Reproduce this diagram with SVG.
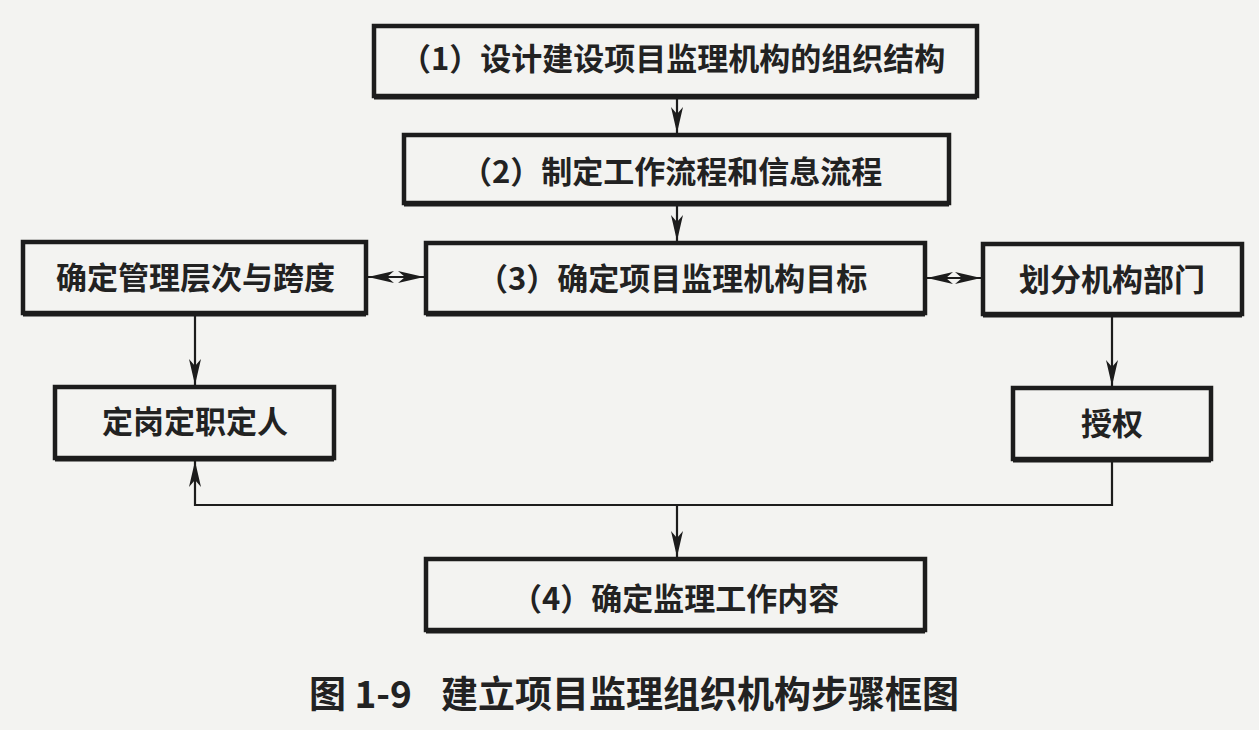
<svg xmlns="http://www.w3.org/2000/svg" width="1259" height="730" viewBox="0 0 1259 730">
<style>
.box{fill:none;stroke:#1c1c1c;stroke-width:4.5}
.bot{stroke:#1c1c1c;stroke-width:3}
.t{font-family:"Noto Sans CJK SC","Noto Sans",sans-serif;font-size:31px;font-weight:bold;fill:#222}
.cap{font-family:"Noto Sans CJK SC","Noto Sans",sans-serif;font-size:37px;font-weight:bold;fill:#222}
.ln{fill:none;stroke:#1c1c1c;stroke-width:2.2}
</style>
<defs>
<marker id="ah" viewBox="0 0 26 12" refX="26" refY="6" markerWidth="26" markerHeight="12" markerUnits="userSpaceOnUse" orient="auto-start-reverse">
<path d="M0,0 L26,6 L0,12 L7,6 Z" fill="#1c1c1c"/>
</marker>
</defs>
<rect x="0" y="0" width="1259" height="730" fill="#f3f3f1"/>
<g id="n1"><rect class="box" x="374" y="26" width="603" height="70"/><line class="bot" x1="374" y1="98" x2="977" y2="98"/><text class="t" x="400" y="70">（1）设计建设项目监理机构的组织结构</text></g>
<g id="n2"><rect class="box" x="404" y="135" width="545" height="68"/><line class="bot" x1="404" y1="205" x2="949" y2="205"/><text class="t" x="461" y="183">（2）制定工作流程和信息流程</text></g>
<g id="n3"><rect class="box" x="426" y="243" width="499" height="70"/><line class="bot" x1="426" y1="315" x2="925" y2="315"/><text class="t" x="477" y="290">（3）确定项目监理机构目标</text></g>
<g id="nL1"><rect class="box" x="23" y="242" width="343" height="71"/><line class="bot" x1="23" y1="315" x2="366" y2="315"/><text class="t" x="56" y="289">确定管理层次与跨度</text></g>
<g id="nR1"><rect class="box" x="983" y="244" width="259" height="70"/><line class="bot" x1="983" y1="316" x2="1242" y2="316"/><text class="t" x="1019" y="291">划分机构部门</text></g>
<g id="nL2"><rect class="box" x="55" y="387" width="279" height="71"/><line class="bot" x1="55" y1="460" x2="334" y2="460"/><text class="t" x="102" y="433">定岗定职定人</text></g>
<g id="nR2"><rect class="box" x="1013" y="388" width="198" height="71"/><line class="bot" x1="1013" y1="461" x2="1211" y2="461"/><text class="t" x="1081" y="435">授权</text></g>
<g id="n4"><rect class="box" x="426" y="559" width="499" height="71"/><line class="bot" x1="426" y1="632" x2="925" y2="632"/><text class="t" x="511" y="610">（4）确定监理工作内容</text></g>
<g id="connectors">
<line class="ln" x1="677" y1="99" x2="677" y2="133" marker-end="url(#ah)"/>
<line class="ln" x1="677" y1="206" x2="677" y2="241" marker-end="url(#ah)"/>
<line class="ln" x1="195" y1="316" x2="195" y2="385" marker-end="url(#ah)"/>
<line class="ln" x1="1112" y1="317" x2="1112" y2="386" marker-end="url(#ah)"/>
<polyline class="ln" points="1112,462 1112,505 195,505 195,461" marker-end="url(#ah)"/>
<line class="ln" x1="677" y1="505" x2="677" y2="557" marker-end="url(#ah)"/>
<line class="ln" x1="368" y1="277" x2="424" y2="277" marker-start="url(#ah)" marker-end="url(#ah)"/>
<line class="ln" x1="927" y1="278" x2="981" y2="278" marker-start="url(#ah)" marker-end="url(#ah)"/>
</g>
<text class="cap" y="708"><tspan x="309">图 1-9</tspan><tspan x="441">建立项目监理组织机构步骤框图</tspan></text>
</svg>
